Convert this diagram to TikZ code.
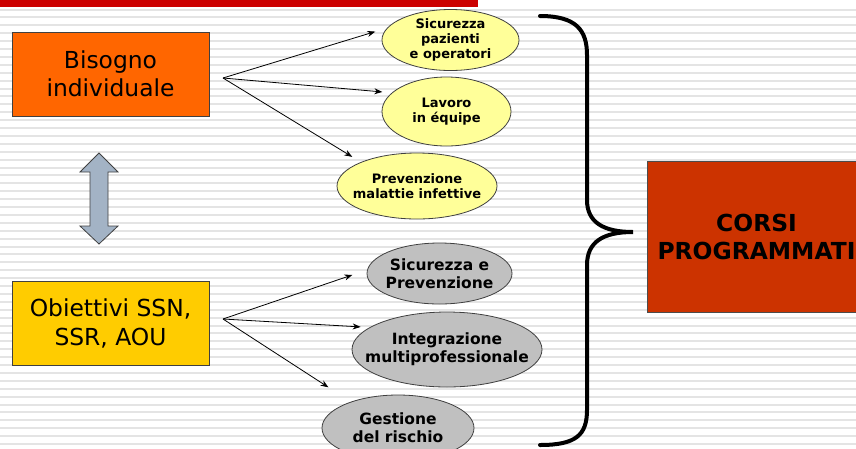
\documentclass[tikz,border=0pt]{standalone}
\usepackage{fontspec}
\setmainfont{DejaVu Sans}
\usetikzlibrary{shapes.geometric,arrows.meta}
\definecolor{bgline}{HTML}{E4E4E4}
\definecolor{topred}{HTML}{CC0000}
\definecolor{orangebox}{HTML}{FF6600}
\definecolor{goldbox}{HTML}{FFCC00}
\definecolor{corsibox}{HTML}{CC3300}
\definecolor{lightyellow}{HTML}{FFFF99}
\definecolor{lightgray}{HTML}{C0C0C0}
\definecolor{arrowfill}{HTML}{A3B3C5}
\definecolor{edgegray}{HTML}{404040}
\begin{document}
\begin{tikzpicture}[x=1pt,y=-1pt,
  bigbox/.style={rectangle,draw=edgegray,line width=0.8pt,minimum width=197pt,minimum height=84pt,inner sep=0pt,align=center,font=\fontsize{23.4}{28.5}\selectfont},
  ellbase/.style={ellipse,draw=edgegray,line width=0.8pt,inner sep=0pt,outer sep=0pt},
  yell/.style={ellbase,fill=lightyellow},
  grayell/.style={ellbase,fill=lightgray},
  ytext/.style={align=center,inner sep=0pt,font=\bfseries\fontsize{13}{15.3}\selectfont},
  gtext/.style={align=center,inner sep=0pt,font=\bfseries\fontsize{15.5}{18}\selectfont},
  arr/.style={line width=0.8pt,-{Stealth[length=8pt,width=6pt]}}]
\useasboundingbox (0,0) rectangle (856,448);
\clip (0,0) rectangle (856,448);
% background stripes
\fill[white] (0,0) rectangle (856,448);
\foreach \k in {0,...,56} {
  \draw[bgline,line width=2pt] (0,9.5+7.9*\k) -- (856,9.5+7.9*\k);
}
% top red bar
\fill[topred] (0,0) rectangle (478,6.5);
% left boxes
\node[bigbox,fill=orangebox] (b1) at (110.5,74) {Bisogno\\individuale};
\node[bigbox,fill=goldbox] (b2) at (110.5,323.5) {Obiettivi SSN,\\SSR, AOU};
% double arrow
\draw[fill=arrowfill,draw=edgegray,line width=0.8pt,line join=miter]
  (99,153) -- (118,172) -- (108,172) -- (108,226) -- (118,226) -- (99,244)
  -- (80,226) -- (90,226) -- (90,172) -- (80,172) -- cycle;
% yellow ellipses
\node[yell,minimum width=137pt,minimum height=61pt,label={[ytext]center:Sicurezza\\pazienti\\e operatori}] (s1) at (450.5,40) {};
\node[yell,minimum width=129pt,minimum height=69pt,label={[ytext]center:Lavoro\\in équipe}] (s2) at (446.5,111.5) {};
\node[yell,minimum width=160pt,minimum height=66pt,label={[ytext]center:Prevenzione\\malattie infettive}] (s3) at (417,186) {};
% gray ellipses
\node[grayell,minimum width=145pt,minimum height=61pt,label={[gtext]center:Sicurezza e\\Prevenzione}] (g1) at (439.5,273.5) {};
\node[grayell,minimum width=190pt,minimum height=75pt,label={[gtext]center:Integrazione\\multiprofessionale}] (g2) at (447,349.5) {};
\node[grayell,minimum width=152pt,minimum height=66pt,label={[gtext]center:Gestione\\del rischio}] (g3) at (398,428) {};
% origins
\coordinate (o1) at (223,78);
\coordinate (o2) at (223,319);
% arrows
\draw[arr,shorten >=13pt] (o1) -- (s1.169.3);
\draw[arr,shorten >=10pt] (o1) -- (s2.161.8);
\draw[arr,shorten >=10.5pt] (o1) -- (s3.157.2);
\draw[arr,shorten >=16pt] (o2) -- (g1.177.4);
\draw[arr,shorten >=9.5pt] (o2) -- (g2.164.7);
\draw[arr,shorten >=27pt] (o2) -- (g3.151);
% result box
\node[rectangle,draw=black!70,line width=0.8pt,fill=corsibox,minimum width=219pt,minimum height=151pt,inner sep=0pt,align=center,font=\bfseries\fontsize{23.4}{28}\selectfont] (c) at (756.5,236.5) {CORSI\\PROGRAMMATI};
% brace
\draw[black,line width=4pt,line cap=round]
  (540,16) .. controls (576,16) and (587,30) .. (587,55) -- (587,200)
  .. controls (587,222) and (603,232) .. (633,232)
  .. controls (603,232) and (587,242) .. (587,265) -- (587,410)
  .. controls (587,435) and (576,445) .. (540,445);
\end{tikzpicture}
\end{document}
